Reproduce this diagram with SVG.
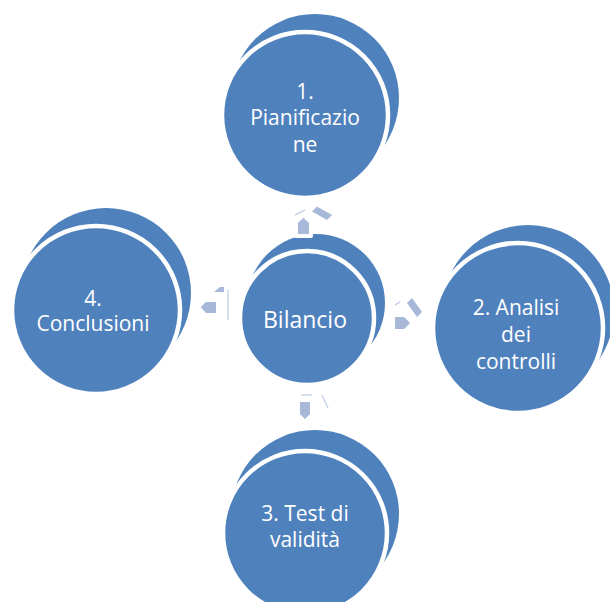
<svg xmlns="http://www.w3.org/2000/svg" width="610" height="602" viewBox="0 0 610 602">
<style>
.back{fill:#4F81BD}
.front{fill:#4F81BD;stroke:#FFFFFF;stroke-width:4.5}
.t{fill:#FFFFFF;font-family:"Open Sans","DejaVu Sans",sans-serif;font-size:21px;text-anchor:middle}
.big{font-size:23px}
.arr{fill:#A7B8D8;stroke:#FFFFFF;stroke-width:4;stroke-linejoin:round}
.frag{fill:#A7B8D8}
.ln{stroke:#C9D4E8;stroke-width:1.5;fill:none}
</style>
<rect width="610" height="602" fill="#FFFFFF"/>
<g id="node-top">
<circle class="back" cx="315" cy="98" r="84"/>
<circle class="front" cx="305" cy="115" r="83"/>
<text class="t" x="305" y="99">1.</text>
<text class="t" x="305" y="125">Pianificazio</text>
<text class="t" x="305" y="152">ne</text>
</g>
<g id="node-right">
<circle class="back" cx="528" cy="311" r="86"/>
<circle class="front" cx="518" cy="328" r="85"/>
<text class="t" x="516" y="315">2. Analisi</text>
<text class="t" x="516" y="342">dei</text>
<text class="t" x="516" y="369">controlli</text>
</g>
<g id="node-bottom">
<circle class="back" cx="315" cy="514" r="84"/>
<circle class="front" cx="305" cy="533" r="82"/>
<text class="t" x="305" y="521">3. Test di</text>
<text class="t" x="305" y="547">validità</text>
</g>
<g id="node-left">
<circle class="back" cx="106" cy="293" r="85"/>
<circle class="front" cx="96" cy="310" r="84"/>
<text class="t" x="93" y="306">4.</text>
<text class="t" x="93" y="331">Conclusioni</text>
</g>
<g id="node-center">
<circle class="back" cx="316" cy="303" r="69"/>
<circle class="front" cx="307" cy="318" r="67"/>
<text class="t big" x="305" y="328">Bilancio</text>
</g>
<g id="connectors">
<g id="arrow-top">
<polygon class="arr" points="303.3,215 311,222 311,236 296,236 296,222"/>
<polygon class="frag" points="312,211.5 317,206.5 332,215 327,220"/>
<line class="ln" x1="295" y1="215" x2="305" y2="210"/>
</g>
<g id="arrow-right">
<polygon class="arr" points="393,315 405,315 413,323 405,331 393,331"/>
<polygon class="frag" points="407,303 412,298 422,312 417,317"/>
<line class="ln" x1="395" y1="305" x2="400" y2="302"/>
</g>
<g id="arrow-bottom">
<polygon class="arr" points="298,400 312,400 312,415 305,422 298,415"/>
<line class="ln" x1="301" y1="395" x2="312" y2="395"/>
<line class="ln" x1="322" y1="395" x2="328" y2="408"/>
</g>
<g id="arrow-left">
<polygon class="arr" points="198,307 205,300 218,300 218,315 205,315"/>
<polygon class="frag" points="214,292 220,287 224,287 224,292"/>
<line class="ln" x1="228" y1="290" x2="228" y2="320"/>
</g>
</g>
</svg>
